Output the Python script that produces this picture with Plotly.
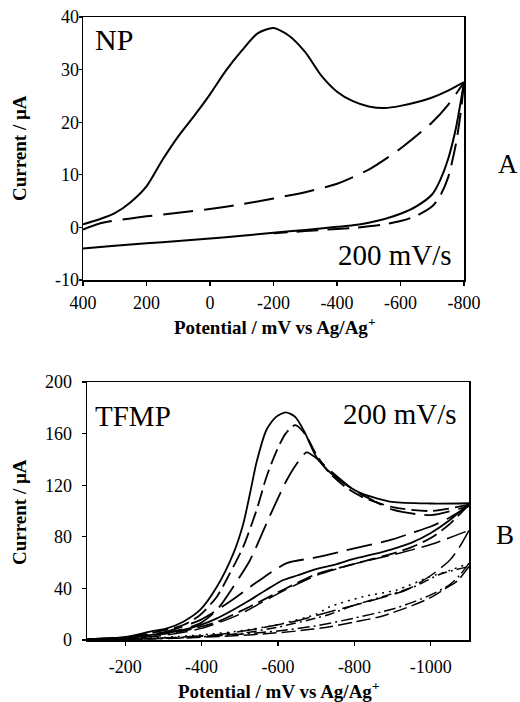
import plotly.graph_objects as go

# ---------------- Panel A (NP) ----------------
NP_SOLID_FWD_E = [400, 350, 300, 250, 200, 150, 100, 50, 0, -50, -100, -150, -200, -250, -300,
                  -350, -400, -450, -500, -550, -600, -650, -700, -750, -800]
NP_SOLID_FWD_I = [0.6, 1.5, 2.7, 4.8, 7.8, 12.8, 17.3, 21.2, 25.3, 29.8, 33.6, 36.9, 37.9, 36.4, 33.3,
                  28.9, 25.8, 24.0, 23.0, 22.7, 23.1, 23.8, 24.7, 26.0, 27.6]
NP_SOLID_REV_E = [-800, -790, -775, -750, -725, -700, -650, -600, -550, -500, -450, -400, -300,
                  -200, -100, 0, 100, 200, 300, 400]
NP_SOLID_REV_I = [27.6, 24.0, 19.0, 13.0, 9.0, 6.3, 4.0, 2.6, 1.6, 0.9, 0.4, 0.1, -0.5,
                  -1.0, -1.6, -2.1, -2.6, -3.0, -3.5, -4.0]
NP_DASH_FWD_E = [400, 350, 300, 250, 200, 100, 0, -100, -200, -300, -400, -500, -600, -700, -750, -800]
NP_DASH_FWD_I = [-0.4, 0.7, 1.3, 1.7, 2.1, 2.8, 3.5, 4.4, 5.5, 6.7, 8.3, 11.0, 15.0, 20.0, 23.3, 27.6]
NP_DASH_REV_E = [-800, -790, -775, -750, -725, -700, -650, -600, -550, -500, -450, -400, -300, -200]
NP_DASH_REV_I = [27.6, 22.0, 16.0, 9.5, 6.0, 4.0, 2.2, 1.2, 0.6, 0.2, -0.1, -0.3, -0.7, -1.1]

TOP_X_TICKS = [400, 200, 0, -200, -400, -600, -800]
TOP_X_TEXT = ["400", "200", "0", "-200", "-400", "-600", "-800"]
TOP_Y_TICKS = [-10, 0, 10, 20, 30, 40]
TOP_Y_TEXT = ["-10", "0", "10", "20", "30", "40"]

# ---------------- Panel B (TFMP) ----------------
B_SOLID_FWD_E = [-100, -150, -200, -265, -309, -352, -396, -440, -483, -509, -527, -544, -570, -595,
                 -620, -645, -670, -700, -730, -775, -820, -900, -1000, -1100]
B_SOLID_FWD_I = [0.5, 1.2, 2.3, 6.4, 9.0, 14.2, 23.3, 41.3, 67.0, 90.0, 114.0, 138.0, 163.0, 173.0,
                 176.5, 173.0, 161.0, 142.0, 131.6, 121.0, 113.5, 107.0, 105.8, 106.0]
B_SOLID_REV_E = [-1100, -1050, -1000, -950, -900, -850, -800, -750, -700, -650, -614, -570, -527,
                 -483, -440, -396, -352, -309, -265, -200, -100]
B_SOLID_REV_I = [106.0, 93.0, 83.0, 75.5, 70.5, 66.5, 63.0, 58.5, 55.0, 50.0, 46.5, 39.0, 31.0,
                 23.5, 16.8, 11.5, 7.8, 5.5, 3.8, 2.0, 0.5]

B_MDASH_FWD_E = [-100, -200, -265, -352, -396, -440, -474, -509, -544, -570, -597, -620, -645, -670,
                 -700, -730, -775, -820, -900, -1000, -1100]
B_MDASH_FWD_I = [0.4, 1.8, 5.2, 11.6, 19.4, 33.6, 51.7, 72.3, 100.8, 126.6, 147.0, 160.0, 166.5,
                 160.0, 144.0, 131.0, 119.0, 111.0, 103.0, 100.0, 105.0]
B_MDASH_REV_E = [-1100, -1050, -1000, -950, -900, -800, -700, -614, -527, -440, -352, -265, -200, -100]
B_MDASH_REV_I = [105.0, 90.0, 79.0, 72.0, 67.0, 59.0, 51.0, 39.0, 26.0, 14.0, 7.0, 3.5, 1.8, 0.4]

B_LDASH_FWD_E = [-100, -200, -265, -352, -396, -440, -483, -527, -570, -600, -623, -650, -675, -700,
                 -750, -800, -850, -900, -1000, -1100]
B_LDASH_FWD_I = [0.3, 1.2, 3.9, 8.5, 12.9, 23.3, 41.3, 62.0, 90.5, 110.0, 124.0, 137.0, 145.5, 141.0,
                 128.0, 116.0, 108.0, 101.0, 96.8, 104.0]
B_LDASH_REV_E = [-1100, -1050, -1000, -950, -900, -800, -700, -623, -550, -480, -400, -300, -200, -100]
B_LDASH_REV_I = [104.0, 95.0, 88.0, 83.0, 78.0, 71.0, 64.0, 59.6, 46.0, 31.0, 16.0, 6.0, 2.0, 0.5]

B_BGDASH_FWD_E = [-100, -200, -300, -400, -500, -600, -700, -800, -900, -1000, -1100]
B_BGDASH_FWD_I = [0.3, 1.2, 3.5, 9.0, 20.0, 36.0, 50.0, 59.0, 66.0, 74.0, 85.0]
B_BGDASH_REV_E = [-1100, -1075, -1050, -1000, -937, -850, -750, -650, -550, -450, -300, -100]
B_BGDASH_REV_I = [85.0, 72.0, 62.0, 50.0, 39.0, 31.0, 23.0, 15.0, 9.0, 4.5, 1.5, 0.2]

B_DOT_FWD_E = [-100, -200, -300, -400, -500, -600, -700, -736, -823, -911, -998, -1050, -1100]
B_DOT_FWD_I = [0.0, 0.8, 2.0, 4.0, 7.0, 12.0, 20.0, 25.8, 33.6, 38.8, 49.0, 54.0, 59.4]
B_DOT_REV_E = [-1100, -1075, -1050, -1000, -950, -900, -800, -700, -600, -500, -400, -300, -200, -100]
B_DOT_REV_I = [59.4, 50.0, 43.0, 35.0, 29.0, 24.0, 17.0, 11.0, 7.0, 4.5, 2.5, 1.2, 0.5, 0.0]

B_DDOT_FWD_E = [-100, -300, -500, -600, -700, -736, -800, -867, -954, -1024, -1100]
B_DDOT_FWD_I = [0.0, 1.5, 5.0, 10.0, 17.0, 20.0, 27.0, 33.0, 41.0, 51.0, 57.0]
B_DDOT_REV_E = [-1100, -1070, -1032, -1000, -954, -867, -800, -736, -650, -550, -450, -350, -200, -100]
B_DDOT_REV_I = [57.0, 46.0, 38.8, 33.0, 27.0, 18.0, 14.0, 10.3, 7.0, 4.5, 2.8, 1.5, 0.5, 0.0]

BOT_X_TICKS = [-200, -400, -600, -800, -1000]
BOT_X_TEXT = ["-200", "-400", "-600", "-800", "-1000"]
BOT_Y_TICKS = [0, 40, 80, 120, 160, 200]
BOT_Y_TEXT = ["0", "40", "80", "120", "160", "200"]

FONT = "Liberation Serif"
W, H = 520, 702


def px(x):
    return x / W


def py(y):
    return 1 - y / H


fig = go.Figure()


def add(e, i, dash, xa, ya, width=1.8):
    fig.add_trace(go.Scatter(x=e, y=i, mode="lines", xaxis=xa, yaxis=ya, showlegend=False,
                             hoverinfo="skip",
                             line=dict(color="black", width=width, dash=dash,
                                       shape="spline", smoothing=0.7)))


add(NP_SOLID_FWD_E, NP_SOLID_FWD_I, "solid", "x", "y", 2)
add(NP_SOLID_REV_E, NP_SOLID_REV_I, "solid", "x", "y", 2)
add(NP_DASH_FWD_E, NP_DASH_FWD_I, "30px,11px", "x", "y", 2)
add(NP_DASH_REV_E, NP_DASH_REV_I, "22px,9px", "x", "y", 2)

add(B_SOLID_FWD_E, B_SOLID_FWD_I, "solid", "x2", "y2")
add(B_SOLID_REV_E, B_SOLID_REV_I, "solid", "x2", "y2")
add(B_MDASH_FWD_E, B_MDASH_FWD_I, "16px,6px", "x2", "y2")
add(B_MDASH_REV_E, B_MDASH_REV_I, "16px,6px", "x2", "y2")
add(B_LDASH_FWD_E, B_LDASH_FWD_I, "26px,9px", "x2", "y2")
add(B_LDASH_REV_E, B_LDASH_REV_I, "26px,9px", "x2", "y2")
add(B_BGDASH_FWD_E, B_BGDASH_FWD_I, "20px,7px", "x2", "y2", 1.5)
add(B_BGDASH_REV_E, B_BGDASH_REV_I, "20px,7px", "x2", "y2", 1.5)
add(B_DOT_FWD_E, B_DOT_FWD_I, "2px,5px", "x2", "y2", 1.5)
add(B_DOT_REV_E, B_DOT_REV_I, "12px,4px,2px,4px", "x2", "y2", 1.5)
add(B_DDOT_FWD_E, B_DDOT_FWD_I, "10px,4px,2px,4px", "x2", "y2", 1.5)
add(B_DDOT_REV_E, B_DDOT_REV_I, "14px,5px", "x2", "y2", 1.5)

axis_common = dict(showgrid=False, zeroline=False, showline=True, linecolor="black", linewidth=1.5,
                   mirror=True, ticks="outside", tickwidth=1.2, tickcolor="black",
                   automargin=False, ticklabeloverflow="allow",
                   tickfont=dict(family=FONT, size=18, color="black"))

fig.update_layout(
    template="none",
    width=W, height=H, margin=dict(l=0, r=0, t=0, b=0, autoexpand=False),
    paper_bgcolor="white", plot_bgcolor="white",
    xaxis=dict(domain=[px(83), px(464)], anchor="y", range=[400, -800], ticklen=4,
               tickvals=TOP_X_TICKS, ticktext=TOP_X_TEXT, ticklabelstandoff=2, **axis_common),
    yaxis=dict(domain=[py(280), py(17)], anchor="x", range=[-10, 40], ticklen=3,
               tickvals=TOP_Y_TICKS, ticktext=TOP_Y_TEXT, ticklabelstandoff=-4, **axis_common),
    xaxis2=dict(domain=[px(87), px(469)], anchor="y2", range=[-100, -1100], ticklen=4,
                tickvals=BOT_X_TICKS, ticktext=BOT_X_TEXT, ticklabelstandoff=6, **axis_common),
    yaxis2=dict(domain=[py(640), py(382)], anchor="x2", range=[0, 200], ticklen=4,
                tickvals=BOT_Y_TICKS, ticktext=BOT_Y_TEXT, ticklabelstandoff=6, **axis_common),
)


def note(text, x, y, size, xanchor="center", angle=0, bold=False):
    fig.add_annotation(text=("<b>%s</b>" % text) if bold else text, x=px(x), y=py(y),
                       xref="paper", yref="paper", xanchor=xanchor, yanchor="middle",
                       showarrow=False, textangle=angle,
                       font=dict(family=FONT, size=size, color="black"))


note("NP", 93, 39, 30, "left")
note("200 mV/s", 454, 255, 29, "right")
note("A", 508, 164, 27)
note("TFMP", 93, 416, 29, "left")
note("200 mV/s", 459, 414, 29, "right")
note("B", 505, 535, 27)
note("Potential / mV vs Ag/Ag<sup>+</sup>", 274, 326, 19, bold=True)
note("Potential / mV vs Ag/Ag<sup>+</sup>", 278, 690, 19, bold=True)
note("Current / µA", 19, 148, 19, angle=-90, bold=True)
note("Current / µA", 19, 512, 19, angle=-90, bold=True)

fig.write_html("out.html",
               config={"displayModeBar": False, "staticPlot": True},
               post_script="document.body.style.margin='0';document.body.style.padding='0';"
                           "document.body.style.overflow='hidden';")
